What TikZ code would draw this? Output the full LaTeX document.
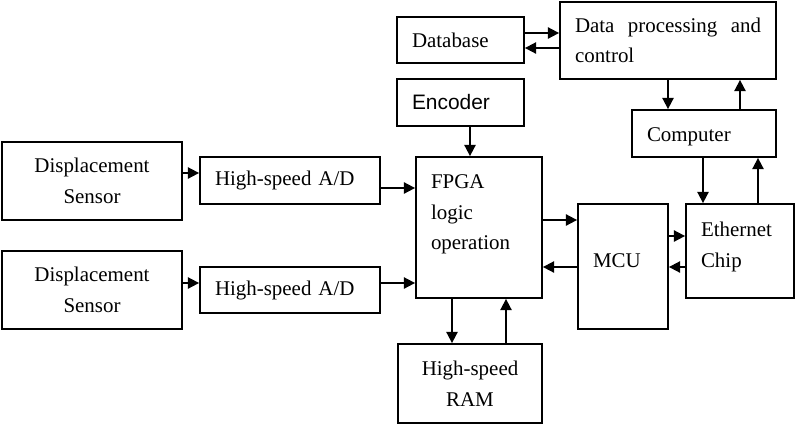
\documentclass[tikz,border=0pt]{standalone}
\usepackage{fontspec}
\setmainfont{Liberation Serif}
\setsansfont{Liberation Sans}
\usepackage{tikz}
\usetikzlibrary{arrows.meta,positioning,calc}
\newlength\pxu
\setlength\pxu{0.75pt}
\tikzset{
  %% boxes, text set from the left edge
  blk/.style={draw, line width=1.35pt, inner xsep=15\pxu, inner ysep=0pt,
    align=left, font=\fontsize{15.7}{23}\selectfont},
  blkc/.style={blk, align=center},
  %% connectors
  arw/.style={-{Triangle[length=8.5pt,width=8.5pt]}, line width=1.35pt},
}
\begin{document}
\begin{tikzpicture}[x=0.75pt, y=-0.75pt]
\useasboundingbox (0,0) rectangle (798,426);
\node[blkc, text width=150\pxu, minimum height=78\pxu] (ds1) at (92,181) {Displacement\\Sensor};
\node[blk,  text width=150\pxu, minimum height=47\pxu] (ad1) at (290,180.5) {High-speed A/D};
\node[blkc, text width=150\pxu, minimum height=78\pxu] (ds2) at (92,290) {Displacement\\Sensor};
\node[blk,  text width=150\pxu, minimum height=46\pxu] (ad2) at (290,290) {High-speed A/D};
\node[blk,  text width=97\pxu,  minimum height=46\pxu] (db)  at (460.5,40) {Database};
\node[blk,  text width=97\pxu,  minimum height=47\pxu, font=\fontsize{15.7}{23}\sffamily] (enc) at (460.5,102.5) {Encoder};
\node[blk,  text width=186\pxu, minimum height=77\pxu, align=justify] (dp) at (668,40.5) {Data processing and control};
\node[blk,  text width=114\pxu, minimum height=47\pxu, text height=20\pxu] (pc) at (704,133.5) {Computer};
\node[blk,  text width=96\pxu,  minimum height=141\pxu] (fpga) at (479,227.5) {FPGA\\logic\\operation\\\phantom{x}};
\node[blk,  text width=60\pxu,  minimum height=125\pxu, text depth=12\pxu] (mcu) at (623,266.5) {MCU};
\node[blk,  text width=78\pxu,  minimum height=94\pxu, text depth=43\pxu] (eth) at (740,251) {Ethernet\\Chip};
\node[blkc, text width=114\pxu, minimum height=79\pxu] (ram) at (470,383.5) {High-speed\\RAM};

%% left to right
\foreach \a/\b/\y in {ds1/ad1/173, ad1/fpga/188, ds2/ad2/283, ad2/fpga/283, db/dp/33, fpga/mcu/220, mcu/eth/236}
  \draw[arw] (\a.east |- 0,\y) -- (\b.west |- 0,\y);
%% right to left
\foreach \a/\b/\y in {dp/db/48, mcu/fpga/267, eth/mcu/267}
  \draw[arw] (\a.west |- 0,\y) -- (\b.east |- 0,\y);
%% downwards
\foreach \a/\b/\x in {enc/fpga/470, dp/pc/668, pc/eth/703, fpga/ram/452}
  \draw[arw] (\a.south -| \x,0) -- (\b.north -| \x,0);
%% upwards
\foreach \a/\b/\x in {pc/dp/740, eth/pc/758, ram/fpga/506}
  \draw[arw] (\a.north -| \x,0) -- (\b.south -| \x,0);
\end{tikzpicture}
\end{document}
